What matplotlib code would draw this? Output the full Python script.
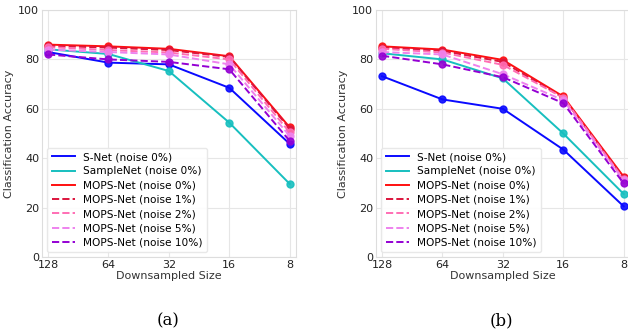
import numpy as np
import matplotlib
matplotlib.use("Agg")
import matplotlib.pyplot as plt

# Downsampled sizes (x axis, shown from large to small)
sizes = [128, 64, 32, 16, 8]

# Panel (a)
snet_a = [83.0, 78.7, 78.0, 68.5, 45.8]
samplenet_a = [84.1, 82.2, 75.3, 54.4, 29.6]
mops0_a = [86.0, 85.3, 84.3, 81.3, 52.5]
mops1_a = [85.5, 84.8, 83.8, 81.0, 52.0]
mops2_a = [85.0, 83.8, 82.8, 80.0, 50.5]
mops5_a = [84.0, 83.0, 82.0, 78.0, 49.0]
mops10_a = [82.0, 80.0, 79.0, 76.0, 47.0]

# Panel (b)
snet_b = [73.2, 63.8, 60.0, 43.5, 20.5]
samplenet_b = [82.5, 80.0, 72.3, 50.0, 25.5]
mops0_b = [85.3, 84.0, 79.8, 65.0, 32.5]
mops1_b = [84.8, 83.5, 79.0, 64.5, 32.0]
mops2_b = [84.3, 82.8, 77.8, 64.5, 31.5]
mops5_b = [83.0, 82.0, 74.0, 63.5, 31.0]
mops10_b = [81.5, 78.0, 72.8, 62.3, 29.8]

labels = ["S-Net (noise 0%)", "SampleNet (noise 0%)", "MOPS-Net (noise 0%)",
          "MOPS-Net (noise 1%)", "MOPS-Net (noise 2%)", "MOPS-Net (noise 5%)",
          "MOPS-Net (noise 10%)"]
colors = ["#0a0aff", "#17bfbf", "#ff0f0f", "#dc143c", "#ff6eb4", "#ee82ee", "#9400d3"]
styles = ["-", "-", "-", "--", "--", "--", "--"]

panels = [
    [snet_a, samplenet_a, mops0_a, mops1_a, mops2_a, mops5_a, mops10_a],
    [snet_b, samplenet_b, mops0_b, mops1_b, mops2_b, mops5_b, mops10_b],
]
captions = ["(a)", "(b)"]


def draw_panel(ax, series):
    x = np.arange(len(sizes))
    for vals, lab, col, ls in zip(series, labels, colors, styles):
        ax.plot(x, vals, ls, color=col, lw=1.4, label=lab)
        ax.plot(x, vals, "o", color=col, ms=5, alpha=0.9)
    ax.set_xlim(-0.1, 4.1)
    ax.set_ylim(0, 100)
    ax.set_xticks(x)
    ax.set_xticklabels([str(s) for s in sizes])
    ax.set_yticks([0, 20, 40, 60, 80, 100])
    ax.grid(True, color="#e6e6e6", lw=0.8)
    ax.set_axisbelow(True)
    for sp in ax.spines.values():
        sp.set_color("#dddddd")
    ax.tick_params(length=0, labelsize=8, colors="#222222", pad=2)
    ax.set_xlabel("Downsampled Size", fontsize=8, color="#333333", labelpad=1)
    ax.set_ylabel("Classification Accuracy", fontsize=8, color="#333333", labelpad=3)
    ax.legend(loc="lower left", fontsize=7.6, framealpha=0.9, edgecolor="#e6e6e6",
              handlelength=2.2, borderpad=0.4, labelspacing=0.4)


fig = plt.figure(figsize=(6.28, 3.35), dpi=100)
lefts = [42 / 628, 376 / 628]
for left, series, cap in zip(lefts, panels, captions):
    ax = fig.add_axes([left, 0.233, 0.404, 0.737])
    draw_panel(ax, series)
    fig.text(left + 0.2, 0.03, cap, ha="center", fontsize=12, family="DejaVu Serif")

fig.savefig("out.png", dpi=100)
